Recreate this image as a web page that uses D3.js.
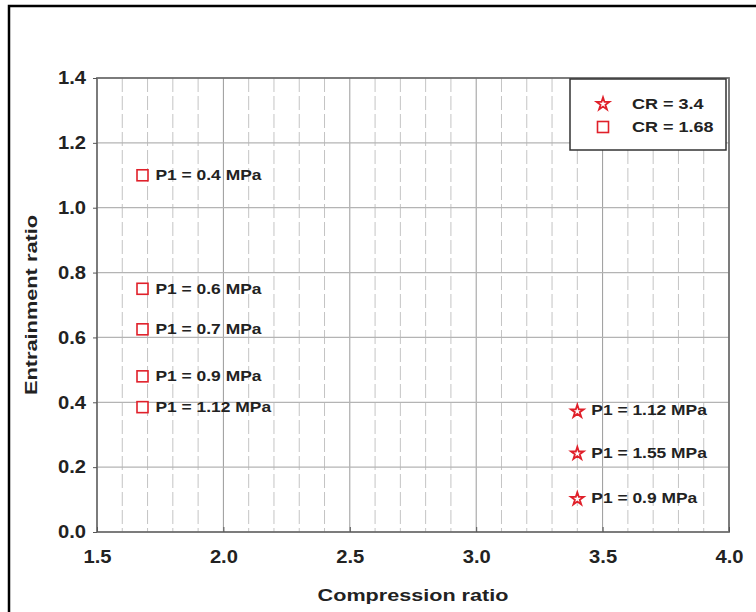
<!DOCTYPE html>
<html>
<head>
<meta charset="utf-8">
<script src="https://cdn.jsdelivr.net/npm/d3@7"></script>
<style>
  body { margin: 0; background: #fff; }
  text { font-family: "Liberation Sans", Arial, sans-serif; font-weight: bold; }
</style>
</head>
<body>
<div id="chart"></div>
<script>
// data
var squareX = [1.68, 1.68, 1.68, 1.68, 1.68];
var squareY = [1.10, 0.75, 0.625, 0.48, 0.385];
var squareLabels = ["P1 = 0.4 MPa", "P1 = 0.6 MPa", "P1 = 0.7 MPa", "P1 = 0.9 MPa", "P1 = 1.12 MPa"];

var starX = [3.4, 3.4, 3.4];
var starY = [0.375, 0.245, 0.105];
var starLabels = ["P1 = 1.12 MPa", "P1 = 1.55 MPa", "P1 = 0.9 MPa"];

var legendLabels = ["CR = 3.4", "CR = 1.68"];

var xTicks = [1.5, 2.0, 2.5, 3.0, 3.5, 4.0];
var yTicks = [0.0, 0.2, 0.4, 0.6, 0.8, 1.0, 1.2, 1.4];

var W = 756, H = 612;
var margin = {top: 78, right: 27, bottom: 80, left: 97};

// the original text is a bit stretched sideways
function stretch(sel, k) {
  sel.each(function() {
    var len = this.getComputedTextLength();
    d3.select(this).attr("textLength", len * k).attr("lengthAdjust", "spacingAndGlyphs");
  });
}

var svg = d3.select("#chart").append("svg")
    .attr("width", W)
    .attr("height", H);

// outer frame (right/bottom fall off the picture)
svg.append("rect")
    .attr("x", 9).attr("y", 6)
    .attr("width", 760).attr("height", 620)
    .attr("fill", "none")
    .attr("stroke", "#000")
    .attr("stroke-width", 2.5);

var x = d3.scaleLinear().domain([1.5, 4.0]).range([margin.left, W - margin.right]);
var y = d3.scaleLinear().domain([0, 1.4]).range([H - margin.bottom, margin.top]);

var g = svg.append("g");

function isMajor(d) { return Math.abs(d * 2 - Math.round(d * 2)) < 1e-6; }

// vertical minor grid (every 0.1), dashed
var minorX = d3.range(16, 40).map(function(d) { return d / 10; });
g.selectAll(".vgrid")
    .data(minorX)
  .enter().append("line")
    .attr("x1", function(d) { return x(d); })
    .attr("x2", function(d) { return x(d); })
    .attr("y1", y(1.4))
    .attr("y2", y(0))
    .attr("stroke", function(d) { return isMajor(d) ? "#9a9a9a" : "#c4c4c4"; })
    .attr("stroke-width", 1)
    .attr("stroke-dasharray", function(d) { return isMajor(d) ? null : "14,4"; });

// horizontal grid at major ticks
g.selectAll(".hgrid")
    .data(yTicks.slice(1, -1))
  .enter().append("line")
    .attr("x1", x(1.5))
    .attr("x2", x(4.0))
    .attr("y1", function(d) { return y(d); })
    .attr("y2", function(d) { return y(d); })
    .attr("stroke", "#b4b4b4")
    .attr("stroke-width", 1.2);

// plot frame
g.append("rect")
    .attr("x", x(1.5)).attr("y", y(1.4))
    .attr("width", x(4.0) - x(1.5))
    .attr("height", y(0) - y(1.4))
    .attr("fill", "none")
    .attr("stroke", "#6e6e6e")
    .attr("stroke-width", 1.8);

// axes
var xAxis = svg.append("g")
    .attr("transform", "translate(0," + y(0) + ")")
    .call(d3.axisBottom(x).tickValues(xTicks).tickFormat(d3.format(".1f")).tickSize(-5).tickPadding(18));
var yAxis = svg.append("g")
    .attr("transform", "translate(" + x(1.5) + ",0)")
    .call(d3.axisLeft(y).tickValues(yTicks).tickFormat(d3.format(".1f")).tickSize(4).tickPadding(7));

[xAxis, yAxis].forEach(function(a) {
  a.select(".domain").remove();
  a.selectAll(".tick line").attr("stroke", "#555");
  a.selectAll(".tick text").attr("fill", "#222").style("font-size", "18px").call(stretch, 1.12);
});

// axis titles
svg.append("text")
    .attr("x", (x(1.5) + x(4.0)) / 2)
    .attr("y", 601)
    .attr("text-anchor", "middle")
    .attr("fill", "#222")
    .style("font-size", "17px")
    .text("Compression ratio")
    .call(stretch, 1.27);

svg.append("text")
    .attr("transform", "translate(37," + ((y(0) + y(1.4)) / 2) + ") rotate(-90)")
    .attr("text-anchor", "middle")
    .attr("fill", "#222")
    .style("font-size", "17px")
    .text("Entrainment ratio")
    .call(stretch, 1.28);

var red = "#e0202a";
var starPath = d3.symbol().type(d3.symbolStar).size(50);
var sqSize = 11;

// squares
g.selectAll(".sq")
    .data(squareY)
  .enter().append("rect")
    .attr("x", function(d, i) { return x(squareX[i]) - sqSize / 2; })
    .attr("y", function(d) { return y(d) - sqSize / 2; })
    .attr("width", sqSize).attr("height", sqSize)
    .attr("fill", "#fff")
    .attr("stroke", red)
    .attr("stroke-width", 1.6);

g.selectAll(".sqlab")
    .data(squareLabels)
  .enter().append("text")
    .attr("x", function(d, i) { return x(squareX[i]) + 13; })
    .attr("y", function(d, i) { return y(squareY[i]) + 5; })
    .attr("fill", "#222")
    .style("font-size", "15px")
    .text(function(d) { return d; })
    .call(stretch, 1.16);

// stars
g.selectAll(".star")
    .data(starY)
  .enter().append("path")
    .attr("d", starPath)
    .attr("transform", function(d, i) { return "translate(" + x(starX[i]) + "," + (y(d) + 1) + ")"; })
    .attr("fill", "#fff")
    .attr("stroke", red)
    .attr("stroke-width", 1.8);

g.selectAll(".starlab")
    .data(starLabels)
  .enter().append("text")
    .attr("x", function(d, i) { return x(starX[i]) + 14; })
    .attr("y", function(d, i) { return y(starY[i]) + 5; })
    .attr("fill", "#222")
    .style("font-size", "15px")
    .text(function(d) { return d; })
    .call(stretch, 1.16);

// legend
var lg = svg.append("g").attr("transform", "translate(570,79)");
lg.append("rect")
    .attr("width", 156).attr("height", 71)
    .attr("fill", "#fff")
    .attr("stroke", "#333")
    .attr("stroke-width", 1.5);
lg.append("path")
    .attr("d", starPath)
    .attr("transform", "translate(33,25)")
    .attr("fill", "#fff").attr("stroke", red).attr("stroke-width", 1.8);
lg.append("rect")
    .attr("x", 33 - sqSize / 2).attr("y", 48 - sqSize / 2)
    .attr("width", sqSize).attr("height", sqSize)
    .attr("fill", "#fff").attr("stroke", red).attr("stroke-width", 1.6);
lg.selectAll(".lt")
    .data(legendLabels)
  .enter().append("text")
    .attr("x", 62)
    .attr("y", function(d, i) { return 30 + i * 23; })
    .attr("fill", "#222")
    .style("font-size", "15px")
    .text(function(d) { return d; })
    .call(stretch, 1.2);
</script>
</body>
</html>
